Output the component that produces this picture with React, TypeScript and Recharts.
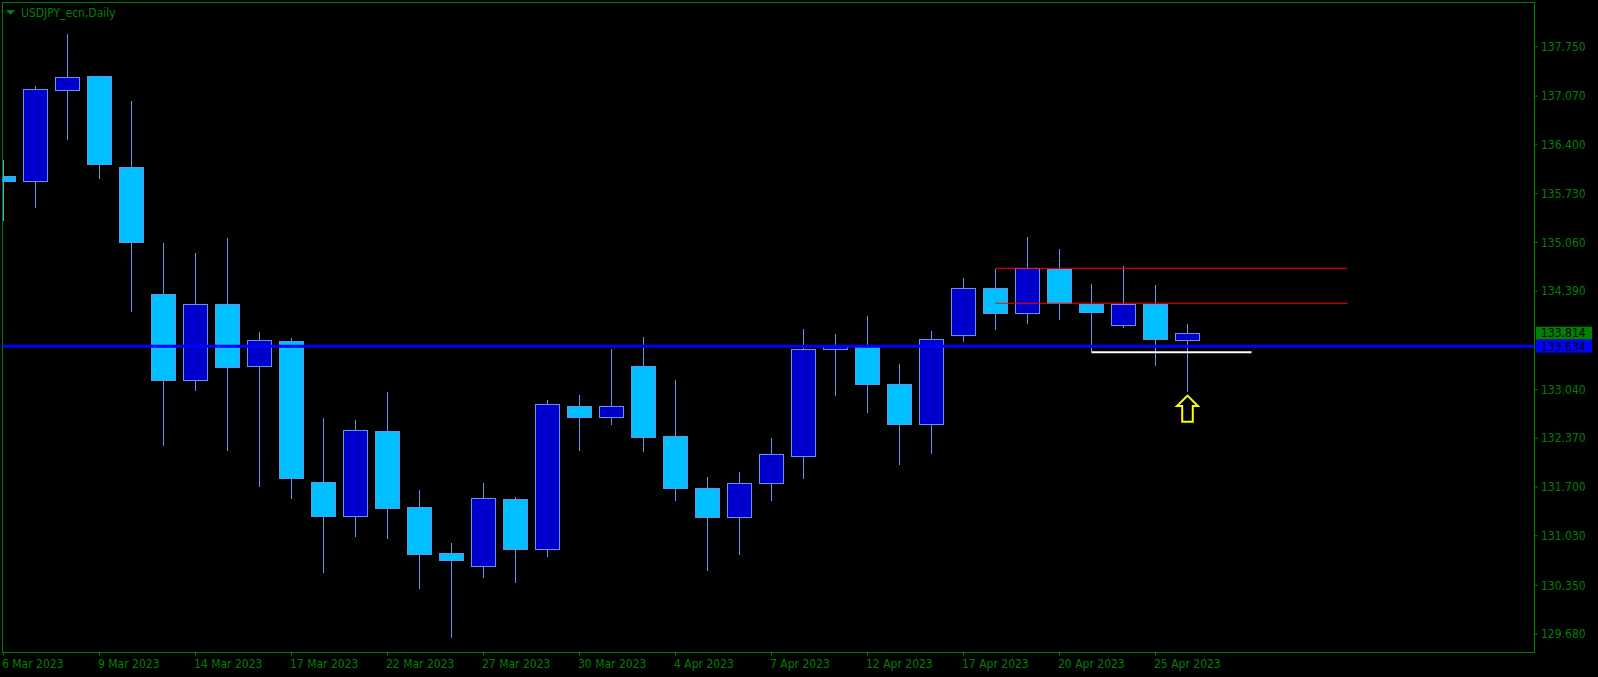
import React from 'react';
import {
  ComposedChart,
  Bar,
  XAxis,
  YAxis,
  ReferenceLine,
  ReferenceDot,
  Customized,
} from 'recharts';

const dates = [
  '6 Mar 2023', '7 Mar 2023', '8 Mar 2023', '9 Mar 2023', '10 Mar 2023',
  '13 Mar 2023', '14 Mar 2023', '15 Mar 2023', '16 Mar 2023', '17 Mar 2023',
  '20 Mar 2023', '21 Mar 2023', '22 Mar 2023', '23 Mar 2023', '24 Mar 2023',
  '27 Mar 2023', '28 Mar 2023', '29 Mar 2023', '30 Mar 2023', '31 Mar 2023',
  '3 Apr 2023', '4 Apr 2023', '5 Apr 2023', '6 Apr 2023', '7 Apr 2023',
  '10 Apr 2023', '11 Apr 2023', '12 Apr 2023', '13 Apr 2023', '14 Apr 2023',
  '17 Apr 2023', '18 Apr 2023', '19 Apr 2023', '20 Apr 2023', '21 Apr 2023',
  '24 Apr 2023', '25 Apr 2023', '26 Apr 2023',
];

const opens = [
  135.973, 135.909, 137.159, 137.343, 136.097,
  134.348, 133.166, 134.211, 133.359, 133.702,
  131.765, 131.306, 132.466, 131.421, 130.789,
  130.611, 131.535, 130.844, 132.809, 132.658,
  133.359, 132.397, 131.682, 131.284, 131.751,
  132.122, 133.592, 133.63, 133.111, 132.562,
  133.793, 134.43, 134.087, 134.696, 134.219,
  133.93, 134.219, 133.716,
];

const highs = [
  136.193, 137.21, 137.924, 137.35, 137.004,
  135.053, 134.915, 135.122, 133.83, 133.748,
  132.648, 132.621, 133.006, 131.659, 130.931,
  131.755, 131.563, 132.896, 132.964, 133.596,
  133.761, 133.17, 131.838, 131.906, 132.374,
  133.871, 133.803, 134.05, 133.39, 133.844,
  134.572, 134.702, 135.135, 134.97, 134.49,
  134.737, 134.476, 133.94,
];

const lows = [
  135.359, 135.538, 136.468, 135.936, 134.109,
  132.268, 133.023, 132.199, 131.704, 131.54,
  130.523, 131.017, 130.99, 130.303, 129.63,
  130.454, 130.385, 130.743, 132.199, 132.556,
  132.185, 131.512, 130.55, 130.77, 131.512,
  131.814, 132.955, 132.721, 132.007, 132.158,
  133.693, 133.857, 133.944, 133.999, 133.551,
  133.889, 133.367, 133.01,
];

const closes = [
  135.909, 137.165, 137.33, 136.142, 135.071,
  133.175, 134.211, 133.353, 133.716, 131.828,
  131.306, 132.479, 131.408, 130.776, 130.701,
  131.545, 130.844, 132.837, 132.658, 132.809,
  132.391, 131.691, 131.292, 131.751, 132.15,
  133.592, 133.638, 133.12, 132.57, 133.73,
  134.43, 134.095, 134.705, 134.228, 134.109,
  134.219, 133.738, 133.812,
];

const xTickIndices = [0, 3, 6, 9, 12, 15, 18, 21, 24, 27, 30, 33, 36];
const yTicks = [137.75, 137.07, 136.4, 135.73, 135.06, 134.39, 133.04, 132.37, 131.7, 131.03, 130.35, 129.68];

const bidPrice = 133.814;
const bluePrice = 133.634;
const redLevels = [134.705, 134.225];
const redStart = 31;
const redEnd = 42;
const whiteLevel = 133.551;
const whiteStart = 34;
const whiteEnd = 39;
const arrowIndex = 37;
const arrowPrice = 132.955;
const title = 'USDJPY_ecn,Daily';

const FG = '#008000';
const WICK = '#6495ED';
const BULL = '#0000CD';
const BEAR = '#00BFFF';
const FONT = "'DejaVu Sans Condensed', Roboto, 'DejaVu Sans', sans-serif";
const FS = 12;

const data = dates.map((d, i) => ({
  i,
  date: d,
  open: opens[i],
  high: highs[i],
  low: lows[i],
  close: closes[i],
  range: [lows[i], highs[i]],
}));

const Candle = (props: any) => {
  const { x, y, width, height } = props;
  const p = props.payload || props;
  if (x == null || y == null || p == null) return null;
  const top = Math.min(y, y + height);
  const h = Math.abs(height);
  const { open, close, high, low } = p;
  const span = high - low || 1;
  const yOf = (v: number) => top + ((high - v) / span) * h;
  const cx = Math.floor(x + width / 2 + 0.001) + 0.5;
  const bull = close >= open;
  const bt = Math.round(yOf(Math.max(open, close))) + 0.5;
  let bb = Math.round(yOf(Math.min(open, close))) + 0.5;
  if (bb < bt + 1) bb = bt + 1;
  return (
    <g>
      <line
        x1={cx}
        x2={cx}
        y1={Math.round(yOf(high))}
        y2={Math.round(yOf(low))}
        stroke={WICK}
        strokeWidth={1}
        shapeRendering="crispEdges"
      />
      <rect
        x={cx - 12}
        y={bt}
        width={24}
        height={bb - bt}
        fill={bull ? BULL : BEAR}
        stroke={WICK}
        strokeWidth={1}
        shapeRendering="crispEdges"
      />
    </g>
  );
};

const DateTick = (props: any) => {
  const { x, y, payload } = props;
  return (
    <text x={x - 1.5} y={y} dy="0.68em" textAnchor="start" fill={FG} fontSize={FS} fontFamily={FONT}>
      {dates[payload.value]}
    </text>
  );
};

const PriceTag = (props: any) => {
  const { viewBox, bg, value } = props;
  if (!viewBox) return null;
  const vy = viewBox.y;
  return (
    <g>
      <rect x={1536} y={vy - 6.5} width={56} height={13} fill={bg} />
      <text x={1541} y={vy} dy="0.36em" fill="#000000" fontSize={FS} fontFamily={FONT}>
        {value.toFixed(3)}
      </text>
    </g>
  );
};

const ArrowShape = (props: any) => {
  const { cx, cy } = props;
  if (cx == null || cy == null) return null;
  const c = Math.floor(cx) + 0.5;
  const t = cy;
  const d = [
    `M${c},${t}`,
    `L${c + 10.5},${t + 10.3}`,
    `L${c + 5.3},${t + 10.3}`,
    `L${c + 5.3},${t + 26}`,
    `L${c - 5.3},${t + 26}`,
    `L${c - 5.3},${t + 10.3}`,
    `L${c - 10.5},${t + 10.3}`,
    'Z',
  ].join(' ');
  return <path d={d} fill="none" stroke="#FFFF00" strokeWidth={2} strokeLinejoin="miter" />;
};

const Frame = () => (
  <g>
    <rect x={2.5} y={2.5} width={1532} height={650} fill="none" stroke={FG} strokeWidth={1} shapeRendering="crispEdges" />
    <path d="M6,10 L15,10 L10.5,15 Z" fill={FG} />
    <text x={21} y={17.3} fill={FG} fontSize={FS} fontFamily={FONT}>
      {title}
    </text>
  </g>
);

export default function App() {
  return (
    <div style={{ width: 1598, height: 677, background: '#000', position: 'relative' }}>
      <style>{`html,body{margin:0;padding:0;background:#000;}`}</style>
      <ComposedChart
        width={1598}
        height={677}
        data={data}
        margin={{ top: 2.5, left: 2.5, right: 0, bottom: 0 }}
        style={{ background: '#000' }}
      >
        <XAxis
          dataKey="i"
          type="number"
          domain={[-1 / 32, 47.84375]}
          allowDataOverflow
          ticks={xTickIndices}
          interval={0}
          height={24.5}
          axisLine={false}
          tickLine={{ stroke: FG }}
          tickSize={3}
          tickMargin={4}
          tick={<DateTick />}
        />
        <YAxis
          orientation="right"
          type="number"
          width={63.5}
          domain={[129.426, 138.357]}
          allowDataOverflow
          ticks={yTicks}
          interval={0}
          axisLine={false}
          tickLine={{ stroke: FG }}
          tickSize={3}
          tickMargin={3.5}
          tickFormatter={(v: number) => v.toFixed(3)}
          tick={{ fill: FG, fontSize: FS, fontFamily: FONT }}
        />
        <Bar dataKey="range" barSize={24} isAnimationActive={false} shape={<Candle />} />
        {redLevels.map((lv) => (
          <ReferenceLine
            key={lv}
            segment={[
              { x: redStart, y: lv },
              { x: redEnd, y: lv },
            ]}
            stroke="#FF0000"
            strokeWidth={1}
          />
        ))}
        <ReferenceLine y={bluePrice} stroke="#0000FF" strokeWidth={3} />
        <ReferenceLine
          segment={[
            { x: whiteStart, y: whiteLevel },
            { x: whiteEnd, y: whiteLevel },
          ]}
          stroke="#FFFFFF"
          strokeWidth={2}
        />
        <ReferenceDot x={arrowIndex} y={arrowPrice} r={1} shape={<ArrowShape />} />
        <ReferenceLine y={bidPrice} stroke="none" label={<PriceTag bg={FG} value={bidPrice} />} />
        <ReferenceLine y={bluePrice} stroke="none" label={<PriceTag bg="#0000FF" value={bluePrice} />} />
        <Customized component={<Frame />} />
      </ComposedChart>
    </div>
  );
}
